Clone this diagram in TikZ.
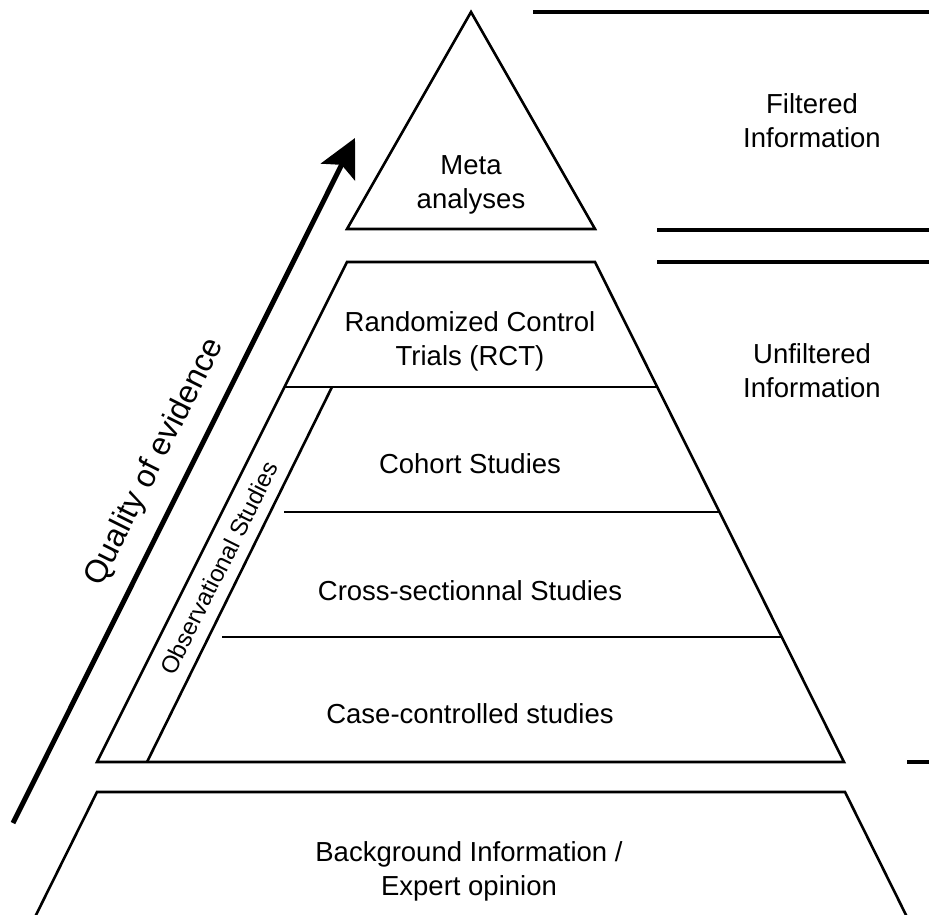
\documentclass[tikz,border=0pt]{standalone}
\usepackage{fontspec}
\setmainfont{Liberation Sans}
\usetikzlibrary{arrows.meta}
\tikzset{
  level/.style={line width=2.6pt, line join=miter},
  divider/.style={line width=3.2pt},
  lbl/.style={align=center, inner sep=0pt, font=\fontsize{27.5}{34}\selectfont},
}
\begin{document}
\begin{tikzpicture}[x=1pt, y=-1pt]
   \useasboundingbox (0,0) rectangle (929,915);
   % pyramid
   \draw[level] (347,229) -- (471,12) -- (595,229) -- cycle;
   \draw[level] (347,262) -- (595,262) -- (844,762) -- (97,762) -- cycle;
   \draw[level] (35,917) -- (97,792) -- (845,792) -- (907,917);
   \foreach \y/\x in {387/284, 512/284, 637/222}
     \draw[level] (\x,\y) -- ({595+(\y-262)/2},\y);
   \draw[level] (332,387) -- (147,762);
   % separators on the right
   \foreach \y/\x in {12/533, 230/657, 262/657, 762/907}
     \draw[divider] (\x,\y) -- (929,\y);

   \coordinate (low) at (13,823);
   \coordinate (high) at (355,138);
   \draw[line width=5pt, -{Stealth[length=38pt, width=38pt, inset=8pt]}] (low) -- (high);

   \node[lbl] (meta) at (471,185) {Meta\\analyses};
   \node[lbl] (rct) at (470,341) {Randomized Control\\Trials (RCT)};
   \node[lbl] (cohort) at (470,464) {Cohort Studies};
   \node[lbl] (cross) at (470,591) {Cross-sectionnal Studies};
   \node[lbl] (casectl) at (470,714) {Case-controlled studies};
   \node[lbl] (backgr) at (469,871) {Background Information /\\Expert opinion};
   \node[lbl] (filt) at (812,121) {Filtered\\Information};
   \node[lbl] (unfilt) at (812,371) {Unfiltered\\Information};
   \node[lbl, font=\fontsize{32}{38}\selectfont, rotate=63.4] (quality) at (155,462) {Quality of evidence};
   \node[lbl, font=\fontsize{24}{29}\selectfont, rotate=63.4] (obs) at (219,568) {Observational Studies};
\end{tikzpicture}
\end{document}
